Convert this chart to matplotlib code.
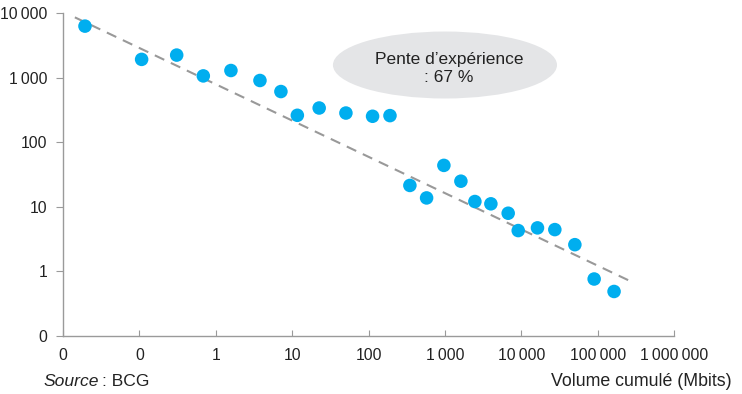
import matplotlib.pyplot as plt
from matplotlib.patches import Ellipse

plt.rcParams['font.family'] = ['Liberation Sans', 'DejaVu Sans']

# volume cumulé (Mbits) and prix
volume = [0.0194, 0.107, 0.308, 0.687, 1.58, 3.79, 7.13, 11.7, 22.6, 50.6,
          113, 191, 348, 576, 970, 1620, 2470, 4000, 6740, 9120,
          16300, 27500, 50300, 90000, 164000]
prix = [6330, 1930, 2250, 1070, 1297, 908, 612, 262, 340, 284,
        253, 259, 21.4, 13.7, 43.8, 24.9, 12.05, 11.1, 7.93, 4.27,
        4.70, 4.42, 2.58, 0.757, 0.485]

# trend line (pente 67 %)
trend_x = [0.0143, 2.9e5]
trend_y = [8660, 0.67]

sp = '\u2009'
xticks = [0.01, 0.1, 1, 10, 100, 1000, 10000, 100000, 1000000]
xlabels = ['0', '0', '1', '10', '100', '1' + sp + '000', '10' + sp + '000',
           '100' + sp + '000', '1' + sp + '000' + sp + '000']
yticks = [0.1, 1, 10, 100, 1000, 10000]
ylabels = ['0', '1', '10', '100', '1' + sp + '000', '10' + sp + '000']

fig = plt.figure(figsize=(7.42, 3.94), dpi=100)
ax = fig.add_axes([0.0849, 0.148, 0.9084 - 0.0849, 0.9662 - 0.148])

ax.plot(trend_x, trend_y, '--', color='#999999', lw=1.5, dashes=(5, 3.5), zorder=1)
ax.scatter(volume, prix, s=95, color='#00AEEF', edgecolors='none', zorder=3)

ax.set_xscale('log')
ax.set_yscale('log')
ax.set_xlim(0.01, 1e6)
ax.set_ylim(0.1, 10000)
ax.set_xticks(xticks)
ax.set_xticklabels(xlabels)
ax.set_yticks(yticks)
ax.set_yticklabels(ylabels)
ax.minorticks_off()

for s in ['top', 'right']:
    ax.spines[s].set_visible(False)
for s in ['left', 'bottom']:
    ax.spines[s].set_color('#9a9a9a')
    ax.spines[s].set_linewidth(1.0)
ax.tick_params(axis='y', length=5, color='#9a9a9a', labelsize=11.3, labelcolor='#222222', pad=6)
ax.tick_params(axis='x', direction='in', length=4, color='#9a9a9a', labelsize=11.3,
               labelcolor='#222222', pad=9)

# bulle
ell = Ellipse((0.5997, 0.835), width=0.302, height=0.17, transform=fig.transFigure,
              facecolor='#e4e5e7', edgecolor='none', zorder=0)
fig.patches.append(ell)
fig.text(0.605, 0.826, 'Pente d\u2019expérience\n: 67 %', ha='center', va='center',
         fontsize=12.5, color='#222222', linespacing=1.2)

fig.text(0.058, 0.02, 'Source', style='italic', fontsize=12.6, color='#222222')
fig.text(0.137, 0.02, ': BCG', fontsize=12.6, color='#222222')
fig.text(0.9865, 0.02, 'Volume cumulé (Mbits)', ha='right', fontsize=12.8, color='#222222')

plt.savefig('out.png', dpi=100)
